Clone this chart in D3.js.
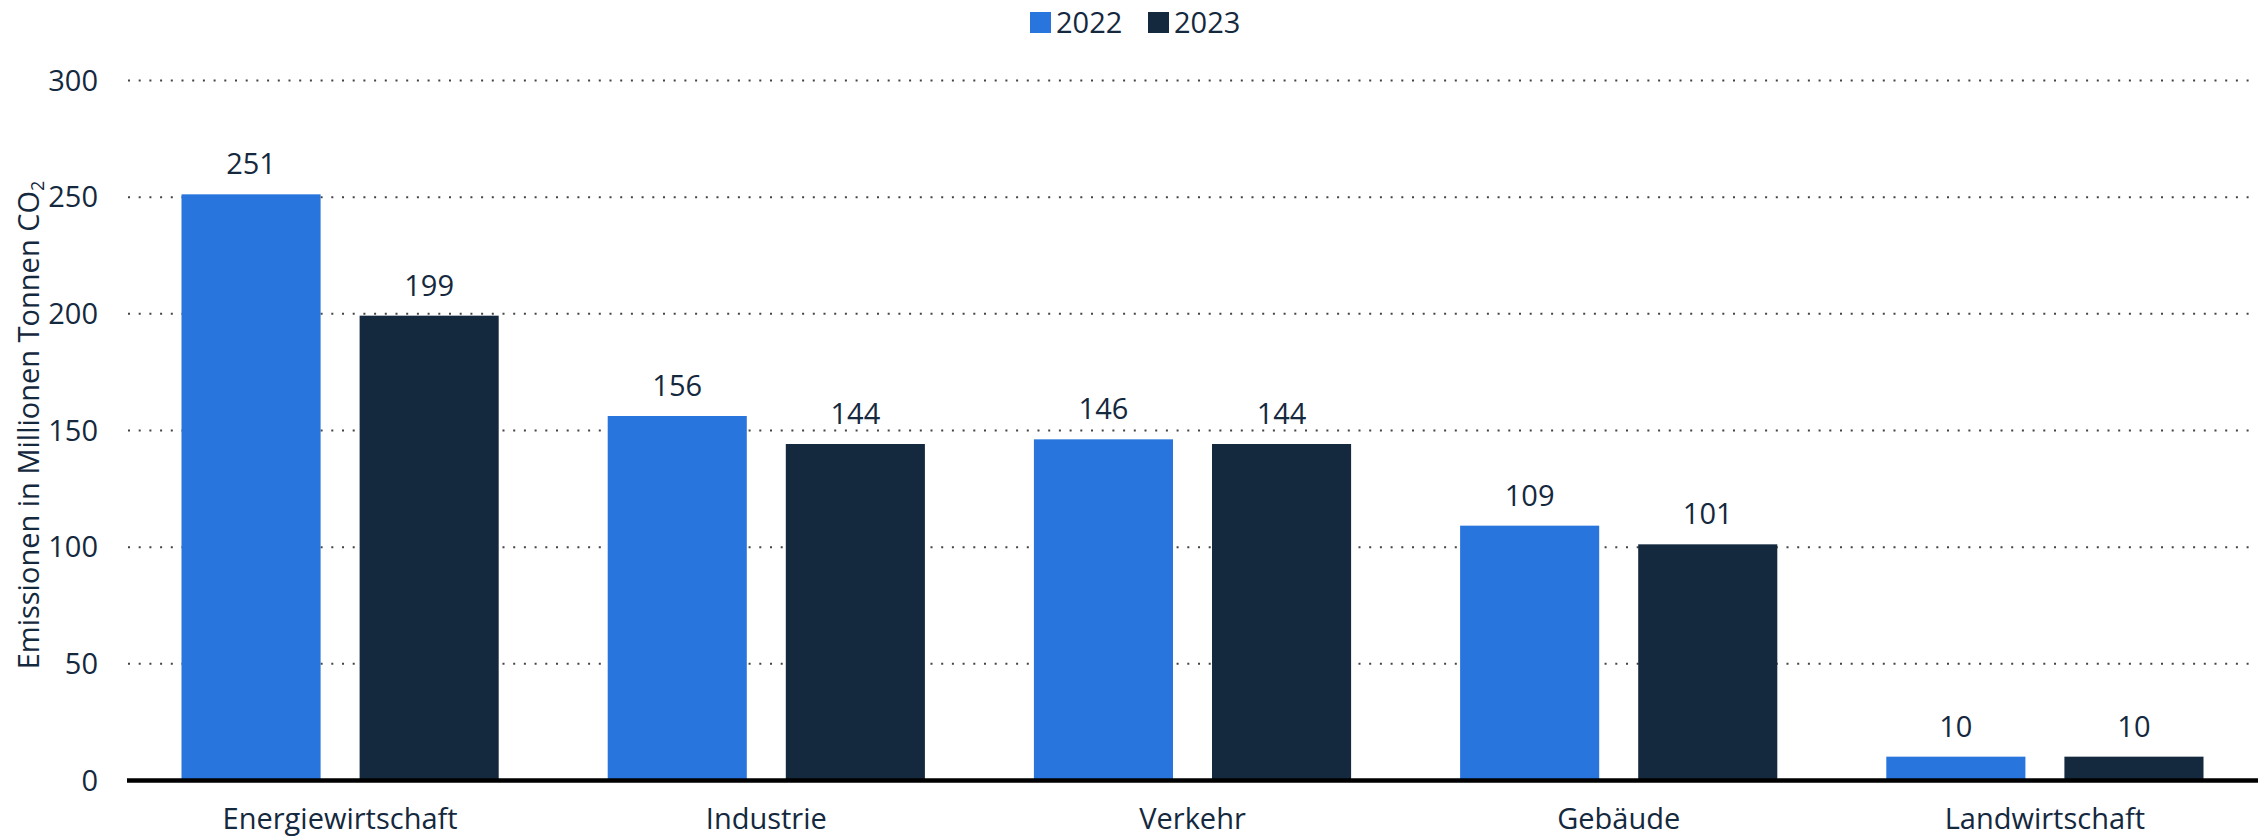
<!DOCTYPE html>
<html>
<head>
<meta charset="utf-8">
<script src="https://cdn.jsdelivr.net/npm/d3@7"></script>
<style>
  html, body { margin: 0; padding: 0; background: #fff; }
  svg { display: block; }
  text { font-family: "Open Sans", "Noto Sans", sans-serif; fill: #14283e; }
</style>
</head>
<body>
<svg id="chart" width="2266" height="836"></svg>
<script>
const categories = ["Energiewirtschaft", "Industrie", "Verkehr", "Gebäude", "Landwirtschaft"];
const seriesNames = ["2022", "2023"];
const values2022 = [251, 156, 146, 109, 10];
const values2023 = [199, 144, 144, 101, 10];
const yTicks = [0, 50, 100, 150, 200, 250, 300];
const colors = ["#2876dd", "#14283e"];
const yTitle = "Emissionen in Millionen Tonnen CO";

(function () {
const svg = d3.select("#chart");
const mLeft = 127, mRight = 2258, mTop = 80, mBottom = 780;
const fontSize = 29;

const x0 = d3.scaleBand().domain(categories).range([mLeft, mRight]).paddingInner(0).paddingOuter(0);
const x1 = d3.scaleBand().domain(seriesNames).range([54.5, x0.bandwidth() - 54.5]).paddingInner(0.219);
const y = d3.scaleLinear().domain([0, 300]).range([mBottom, mTop]);

// gridlines + y tick labels
const yAxis = d3.axisLeft(y).tickValues(yTicks).tickSize(0).tickPadding(0);
const gy = svg.append("g").attr("transform", `translate(${mLeft},0)`).call(yAxis);
gy.select(".domain").remove();
gy.selectAll(".tick text")
  .attr("x", -29)
  .attr("dy", "0.35em")
  .style("font-size", fontSize + "px")
  .style("font-family", '"Open Sans", "Noto Sans", sans-serif')
  .attr("fill", "#14283e");
gy.selectAll(".tick").filter(d => d !== 0).append("line")
  .attr("x1", 1).attr("x2", mRight - mLeft - 4)
  .attr("stroke", "#444")
  .attr("stroke-width", 2)
  .attr("stroke-dasharray", "2,8.7");

// bars
const data = categories.map((c, i) => ({ cat: c, vals: [values2022[i], values2023[i]] }));
const groups = svg.append("g").selectAll("g").data(data).join("g")
  .attr("transform", d => `translate(${x0(d.cat)},0)`);
groups.selectAll("rect").data(d => d.vals.map((v, j) => ({ s: seriesNames[j], v, j }))).join("rect")
  .attr("x", d => x1(d.s))
  .attr("width", x1.bandwidth())
  .attr("y", d => y(d.v))
  .attr("height", d => y(0) - y(d.v))
  .attr("fill", d => colors[d.j]);
groups.selectAll("text.val").data(d => d.vals.map((v, j) => ({ s: seriesNames[j], v, j }))).join("text")
  .attr("class", "val")
  .attr("x", d => x1(d.s) + x1.bandwidth() / 2)
  .attr("y", d => y(d.v) - 20)
  .attr("text-anchor", "middle")
  .style("font-size", fontSize + "px")
  .text(d => d.v);

// x axis
const xAxis = d3.axisBottom(x0).tickSize(0).tickPadding(0);
const gx = svg.append("g").attr("transform", `translate(0,${mBottom})`).call(xAxis);
gx.select(".domain").remove();
gx.selectAll(".tick text")
  .attr("y", 49)
  .attr("dy", 0)
  .style("font-size", fontSize + "px")
  .style("font-family", '"Open Sans", "Noto Sans", sans-serif')
  .attr("fill", "#14283e");
svg.append("line")
  .attr("x1", mLeft).attr("x2", mRight)
  .attr("y1", mBottom + 0.5).attr("y2", mBottom + 0.5)
  .attr("stroke", "#000").attr("stroke-width", 4.5);

// y title
const yt = svg.append("text")
  .attr("transform", `translate(39,${(mTop + mBottom) / 2 - 5}) rotate(-90)`)
  .attr("text-anchor", "middle")
  .style("font-size", fontSize + "px");
yt.append("tspan").text(yTitle);
yt.append("tspan").attr("dy", 5).style("font-size", "18px").text("2");

// legend
const legend = svg.append("g");
const legX = [1030, 1148];
seriesNames.forEach((s, i) => {
  legend.append("rect").attr("x", legX[i]).attr("y", 12).attr("width", 21).attr("height", 21).attr("fill", colors[i]);
  legend.append("text").attr("x", legX[i] + 26).attr("y", 33).style("font-size", fontSize + "px").text(s);
});
})();
</script>
</body>
</html>
